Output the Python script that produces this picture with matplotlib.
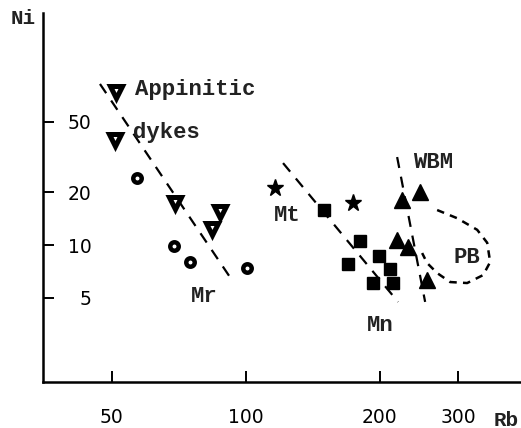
import matplotlib
matplotlib.use("Agg")
import matplotlib.pyplot as plt

# --- data (Rb ppm, Ni ppm) ---
appinitic_rb = [51.0, 50.8, 69.3, 87.5, 83.9]
appinitic_ni = [74.0, 39.5, 17.3, 15.4, 12.3]

mr_rb = [56.9, 68.9, 74.9, 100.6]
mr_ni = [24.0, 9.87, 8.0, 7.4]

mt_rb = [116.3, 174.1]
mt_ni = [21.1, 17.3]

mn_rb = [149.8, 180.6, 199.2, 169.7, 210.9, 193.1, 214.2]
mn_ni = [15.8, 10.5, 8.66, 7.8, 7.3, 6.08, 6.08]

wbm_rb = [224.4, 246.3, 218.7, 231.5, 255.4]
wbm_ni = [18.0, 20.0, 10.7, 9.74, 6.33]

# trend lines (end points)
mr_line_rb = [47.0, 93.0]
mr_line_ni = [82.2, 6.33]
mn_line_rb = [121.2, 219.8]
mn_line_ni = [29.2, 4.75]
wbm_line_rb = [218.7, 252.8]
wbm_line_ni = [31.6, 4.75]

# PB field outline
pb_rb = [269.0, 298.3, 330.9, 348.5, 353.9, 341.4, 314.2, 287.7, 269.0, 255.4, 248.9]
pb_ni = [15.8, 14.2, 12.2, 10.3, 8.0, 6.75, 6.08, 6.16, 6.93, 7.90, 9.0]

x_ticks = [50, 100, 200, 300]
y_ticks = [5, 10, 20, 50]

W, H = 521, 428
fig = plt.figure(figsize=(W / 100, H / 100), dpi=100)
ax = fig.add_axes([43 / W, 1 - 382 / H, 477 / W, 369 / H])
ax.set_xscale("log")
ax.set_yscale("log")
ax.set_xlim(35.0, 413)
ax.set_ylim(1.666, 208)

for side in ("top", "right"):
    ax.spines[side].set_visible(False)
for side in ("left", "bottom"):
    ax.spines[side].set_linewidth(1.8)

ax.minorticks_off()
ax.set_xticks(x_ticks)
ax.set_xticklabels([str(v) for v in x_ticks])
ax.set_yticks(y_ticks)
ax.set_yticklabels([str(v) for v in y_ticks])
ax.tick_params(axis="both", direction="in", length=8, width=1.4,
               labelsize=13.5, colors="black")
ax.tick_params(axis="x", pad=19)
ax.tick_params(axis="y", pad=-35)
for lab in ax.get_xticklabels() + ax.get_yticklabels():
    lab.set_fontfamily("DejaVu Sans")

# dashed trend lines
dash = dict(color="black", lw=1.6, dashes=(5, 4), zorder=2)
ax.plot(mr_line_rb, mr_line_ni, **dash)
ax.plot(mn_line_rb, mn_line_ni, **dash)
ax.plot(wbm_line_rb, wbm_line_ni, **dash)
ax.plot(pb_rb, pb_ni, color="black", lw=1.8, dashes=(3, 2.5), zorder=2)

# symbols
ax.plot(appinitic_rb, appinitic_ni, "v", ms=9, mfc="white", mec="black",
        mew=3.6, ls="none", zorder=3)
ax.plot(mr_rb, mr_ni, "o", ms=6.1, mfc="white", mec="black", mew=3.2,
        ls="none", zorder=3)
ax.plot(mt_rb, mt_ni, "*", ms=12.5, color="black", ls="none", zorder=3)
ax.plot(mn_rb, mn_ni, "s", ms=8.5, color="black", ls="none", zorder=3)
ax.plot(wbm_rb, wbm_ni, "^", ms=11.5, color="black", ls="none", zorder=3)

# labels
mono = dict(fontfamily="Liberation Mono", fontweight="bold", fontsize=16,
            color="#222222")
ax.text(56.3, 76.0, "Appinitic", ha="left", va="center", **mono)
ax.text(55.7, 43.3, "dykes", ha="left", va="center", **mono)
ax.text(80.5, 5.13, "Mr", ha="center", va="center", **mono)
ax.text(123.7, 14.8, "Mt", ha="center", va="center", **mono)
ax.text(200.2, 3.51, "Mn", ha="center", va="center", **mono)
ax.text(263.5, 29.6, "WBM", ha="center", va="center", **mono)
ax.text(314.2, 8.44, "PB", ha="center", va="center", **mono)

axis_lab = dict(fontfamily="Liberation Mono", fontweight="bold", fontsize=15,
                color="#222222", ha="center", va="center")
fig.text(23 / W, 1 - 18 / H, "Ni", **axis_lab)
fig.text(506 / W, 1 - 420 / H, "Rb", **axis_lab)

fig.savefig("out.png", dpi=100, facecolor="white")
